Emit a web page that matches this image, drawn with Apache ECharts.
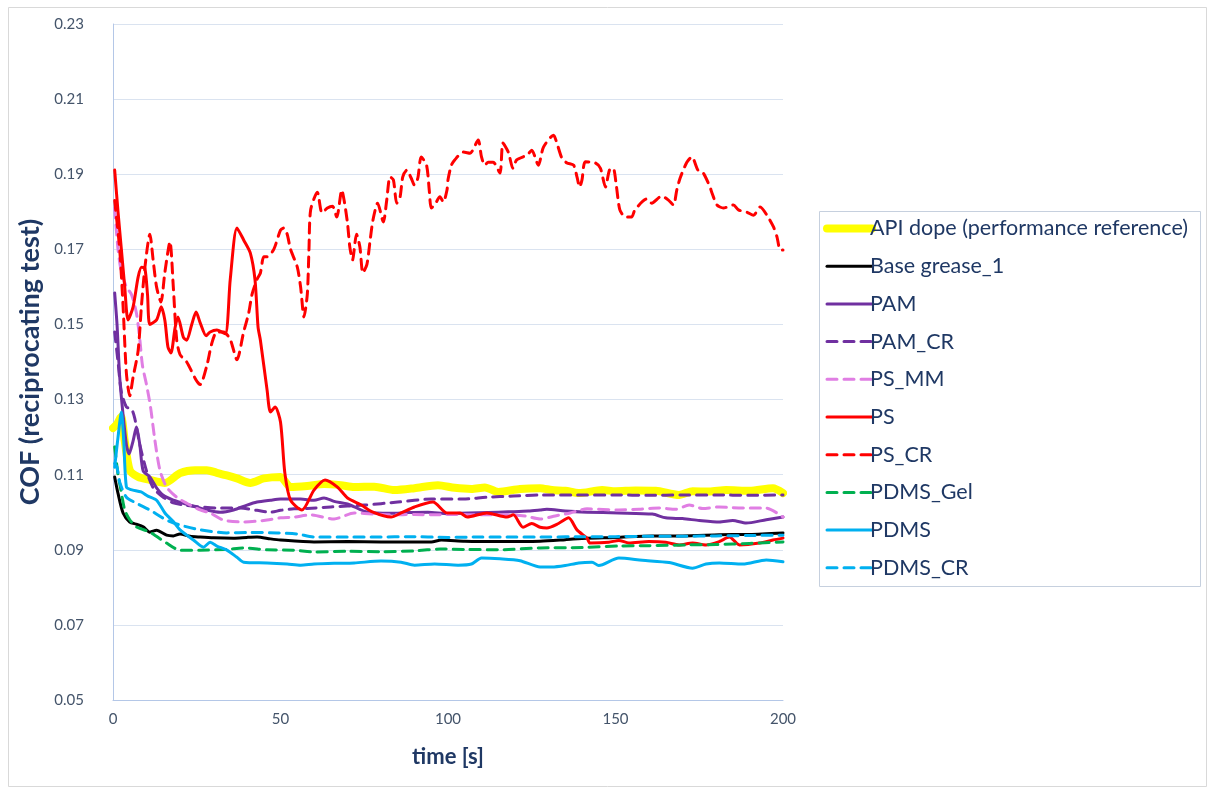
<!DOCTYPE html>
<html>
<head>
<meta charset="utf-8">
<script src="https://cdn.jsdelivr.net/npm/echarts@6/dist/echarts.min.js"></script>
<style>
  html, body { margin: 0; padding: 0; background: #ffffff; }
  #chart { width: 1207px; height: 787px; }
</style>
</head>
<body>
<div id="chart"></div>
<script>
// Friction coefficient vs. time, reciprocating test — [time s, COF]
const API_DOPE = [[0,0.1224],[1.2,0.1235],[2.4,0.1254],[3.5,0.119],[5,0.1112],[7.5,0.1094],[11,0.1086],[15.5,0.1078],[20,0.1104],[24.5,0.1112],[28,0.1112],[31,0.1105],[34,0.1098],[37,0.109],[41,0.1078],[45,0.109],[50,0.1094],[53,0.1067],[58,0.107],[63,0.1075],[68,0.1072],[72,0.1067],[78,0.1068],[84,0.1059],[90,0.1064],[97,0.1072],[102,0.1065],[107,0.1062],[111,0.1066],[115,0.1054],[121.5,0.1062],[127.5,0.1064],[131,0.1059],[135,0.1057],[139,0.1051],[146,0.1059],[150,0.1056],[156,0.1058],[162,0.1057],[169,0.1046],[173,0.1056],[178,0.1055],[183,0.1059],[190,0.1057],[197,0.1064],[200,0.1051]];
const BASE_GREASE_1 = [[0.5,0.1094],[1.5,0.105],[3,0.0998],[5,0.0974],[7,0.0968],[9,0.0961],[11,0.0947],[13,0.0952],[16,0.0939],[18,0.0937],[20,0.0942],[23,0.0936],[26,0.0934],[30,0.0932],[36,0.0931],[40,0.0933],[43,0.0934],[47,0.0929],[50,0.0926],[60,0.0921],[70,0.0922],[80,0.0921],[90,0.0921],[95,0.0921],[98,0.0926],[105,0.0923],[115,0.0922],[127.5,0.0923],[135,0.0927],[141.5,0.0931],[150,0.0933],[161,0.0937],[170,0.0937],[181,0.094],[190,0.0941],[200,0.0945]];
const PAM = [[0.5,0.1584],[1.2,0.150],[2,0.136],[3,0.126],[4,0.118],[4.8,0.1155],[6,0.119],[7,0.1227],[8,0.118],[9,0.111],[11,0.1094],[13,0.1065],[15,0.1045],[18,0.1032],[21,0.1024],[24,0.1016],[28,0.1006],[32,0.1],[36,0.1006],[40,0.1019],[43,0.1027],[47,0.1032],[50,0.1035],[56,0.1035],[60,0.1032],[63,0.1038],[66,0.1029],[70,0.1022],[76,0.1],[83,0.0997],[88,0.0999],[94,0.1],[100,0.0996],[106,0.0998],[112,0.0999],[118,0.1001],[124,0.1003],[127.5,0.1006],[129.5,0.1008],[135,0.1003],[141.5,0.1],[151,0.0998],[161,0.0995],[165,0.0985],[170,0.0983],[175,0.0978],[181,0.0974],[185,0.0978],[189,0.0971],[195,0.098],[200,0.0987]];
const PAM_CR = [[0.5,0.148],[1.5,0.14],[2.5,0.132],[4,0.128],[5.5,0.1275],[6.5,0.125],[8,0.118],[10,0.111],[12,0.1065],[15,0.104],[18,0.1025],[22,0.1018],[26,0.1014],[31,0.1011],[38,0.1011],[43,0.1005],[47,0.1],[50,0.1005],[54,0.1009],[58,0.101],[65,0.1014],[75,0.1019],[85,0.1027],[95,0.1035],[104.5,0.1035],[111.6,0.104],[119.5,0.1043],[127.5,0.1046],[140,0.1046],[150,0.1046],[160,0.1045],[170,0.1046],[180,0.1046],[190,0.1045],[200,0.1046]];
const PS_MM = [[0.5,0.181],[1.5,0.170],[2.5,0.164],[4,0.160],[5.5,0.158],[7,0.153],[8,0.146],[8.8,0.139],[10,0.134],[11.2,0.128],[12.5,0.1192],[14,0.1112],[16,0.1067],[19,0.104],[22,0.1024],[26,0.1006],[29,0.0998],[33,0.0979],[39,0.0974],[46,0.0979],[50,0.0985],[54,0.0987],[59,0.0993],[66,0.0982],[72,0.0998],[78,0.0995],[83,0.0993],[90,0.0994],[95.5,0.0993],[102,0.0994],[109.5,0.0993],[119.5,0.0993],[123,0.099],[127.5,0.0982],[132,0.099],[136.5,0.0998],[141.5,0.1009],[151,0.1006],[157,0.1008],[163,0.1011],[168,0.1008],[172,0.1019],[176,0.101],[181,0.1014],[185,0.1012],[189,0.1011],[195,0.1011],[200,0.0987]];
const PS = [[0.5,0.1911],[1.5,0.180],[2.5,0.170],[3.5,0.160],[4.5,0.1512],[6,0.1547],[7.5,0.1626],[8.5,0.1652],[9.5,0.165],[10.3,0.158],[11,0.150],[13,0.1512],[14.4,0.1547],[15.5,0.151],[16.4,0.144],[17.3,0.1424],[18.5,0.149],[19.4,0.152],[21,0.1466],[22,0.1458],[23.5,0.150],[24.8,0.1533],[26,0.1505],[27.8,0.147],[29,0.148],[31,0.1485],[33.5,0.1475],[35,0.162],[37,0.1757],[39,0.1725],[41,0.169],[42.4,0.1618],[43.3,0.1493],[44,0.1458],[46,0.1325],[47,0.1267],[48.4,0.128],[50,0.124],[51.3,0.1104],[53,0.1032],[56.4,0.1006],[60,0.1059],[63.3,0.1086],[67,0.1067],[70,0.1038],[74,0.102],[77.6,0.1],[83,0.0987],[86,0.0998],[90,0.1014],[95.5,0.1027],[99.7,0.0998],[103.6,0.0998],[105.7,0.0987],[111.6,0.0998],[117.6,0.0987],[119.5,0.0993],[122.4,0.096],[125,0.097],[127.5,0.096],[129.5,0.0958],[133,0.097],[136,0.0985],[138.5,0.0953],[141.5,0.0931],[142.4,0.0918],[148,0.092],[151,0.0925],[154,0.0918],[160,0.0922],[165,0.092],[169,0.0913],[173,0.0918],[177,0.0913],[181,0.0922],[184,0.0934],[187,0.0913],[193,0.0918],[197,0.0926],[200,0.0931]];
const PS_CR = [[0.5,0.183],[2,0.170],[3,0.155],[4,0.137],[5,0.131],[6,0.136],[7.5,0.143],[8.5,0.155],[9.5,0.165],[11,0.174],[12,0.167],[13,0.160],[14.3,0.156],[15.5,0.164],[17,0.172],[18,0.160],[19,0.146],[20,0.142],[22,0.140],[24.8,0.1352],[26,0.134],[28,0.139],[29.5,0.145],[31,0.148],[33,0.148],[35,0.146],[37,0.1406],[39,0.148],[40.5,0.153],[41.5,0.158],[43,0.162],[44,0.1637],[45,0.168],[46,0.168],[48,0.170],[50,0.1751],[51,0.1757],[52,0.174],[53,0.170],[55,0.1653],[56,0.160],[57,0.152],[58,0.158],[58.5,0.170],[59,0.1805],[61,0.1852],[62.4,0.1797],[64,0.181],[65.5,0.1815],[66.8,0.1786],[68.3,0.1858],[69,0.183],[70,0.177],[70.7,0.1706],[71.5,0.1672],[72.7,0.174],[73.7,0.1706],[74.6,0.1637],[75.8,0.166],[76.7,0.172],[77.6,0.1778],[79,0.1823],[80.7,0.1773],[81.7,0.183],[82.7,0.1893],[83.7,0.1885],[84.7,0.1823],[85.7,0.184],[86.5,0.1893],[87.7,0.1911],[89,0.189],[90,0.1871],[91,0.189],[92,0.1946],[93.6,0.1924],[94.4,0.1858],[95,0.181],[96,0.1818],[97.6,0.184],[98.6,0.1826],[99.7,0.1858],[100,0.1885],[101,0.1924],[102,0.1938],[104.6,0.1959],[106.6,0.1956],[109,0.1991],[110,0.1946],[111,0.1924],[112,0.1932],[113.5,0.1932],[115.5,0.1903],[116.4,0.1983],[118,0.1959],[119.4,0.1916],[120.5,0.1938],[123.6,0.1951],[125,0.1964],[126.5,0.1932],[127,0.1924],[128.5,0.1972],[131.5,0.2004],[132.5,0.1983],[134,0.1943],[135.5,0.193],[137.5,0.1924],[138.5,0.1893],[139.3,0.1866],[140,0.1885],[141,0.1933],[144,0.193],[145.5,0.1916],[147,0.1866],[148.2,0.1911],[149.3,0.1916],[150.3,0.1866],[151.3,0.1805],[153,0.1786],[154.8,0.1786],[155.8,0.1805],[159.3,0.1834],[160.8,0.1823],[163.8,0.1842],[165.8,0.1831],[167.3,0.1818],[168.3,0.1858],[169.3,0.189],[171.3,0.1932],[172.8,0.1946],[174.6,0.1911],[176.2,0.1903],[178.2,0.1866],[178.8,0.185],[180.3,0.1818],[182.2,0.181],[185.2,0.1818],[186.7,0.1805],[189.2,0.1799],[191.2,0.1791],[193.2,0.1813],[195.2,0.1791],[197.2,0.1759],[198.2,0.1733],[199.2,0.1698],[200,0.1698]];
const PDMS_GEL = [[0.5,0.1174],[1.5,0.110],[2.2,0.1067],[3.5,0.1006],[5,0.098],[7,0.0961],[11,0.0947],[16,0.0918],[20,0.0899],[26,0.0899],[34,0.0901],[39,0.0905],[46,0.09],[54,0.0899],[60,0.0894],[70,0.0896],[80,0.0895],[90,0.0897],[97.6,0.0902],[105,0.0901],[115,0.09],[127.5,0.0905],[140,0.0906],[151,0.091],[160,0.0911],[171,0.0913],[180,0.0914],[190,0.0917],[200,0.0921]];
const PDMS = [[0.5,0.112],[1.5,0.120],[2.5,0.1267],[3.2,0.119],[4,0.1067],[5.4,0.106],[8.4,0.1054],[10.4,0.1043],[13,0.1032],[15.5,0.0998],[18,0.0975],[20,0.0953],[24,0.0926],[27,0.0907],[29,0.092],[31,0.091],[34,0.0899],[37,0.088],[39,0.0867],[46,0.0865],[52,0.0862],[56,0.0859],[60,0.0862],[66,0.0864],[72,0.0865],[80,0.087],[86,0.0867],[90,0.0859],[96,0.0862],[103,0.0859],[107,0.0862],[110,0.0878],[115.5,0.0876],[121.5,0.0871],[127.5,0.0854],[131,0.0854],[135,0.0858],[139,0.0865],[143,0.0867],[145,0.0858],[151,0.0878],[158,0.0872],[166,0.0866],[173,0.0851],[177,0.0862],[181,0.0865],[188,0.0862],[195,0.0873],[200,0.0868]];
const PDMS_CR = [[0.5,0.113],[1.2,0.112],[2,0.108],[4,0.104],[7,0.1024],[11,0.1006],[16,0.0979],[20,0.0966],[26,0.0953],[34,0.0945],[41,0.0946],[49,0.0945],[55,0.0942],[60,0.0934],[70,0.0934],[80,0.0934],[88,0.0935],[100,0.0933],[110,0.0934],[120,0.0934],[130,0.0934],[140,0.0935],[150,0.0935],[160,0.0936],[170,0.0936],[180,0.0937],[190,0.0938],[200,0.0939]];

const Y_TICKS = [0.05, 0.07, 0.09, 0.11, 0.13, 0.15, 0.17, 0.19, 0.21, 0.23];
const X_TICKS = [0, 50, 100, 150, 200];

const FONT = 'Lato, "Open Sans", sans-serif';
const TEXT_DARK = '#1f3864';
const TICK_TEXT = '#44546a';

function line(name, data, color, width, dashed) {
  return {
    name: name,
    type: 'line',
    data: data,
    smooth: 0.25,
    symbol: 'none',
    showSymbol: false,
    animation: false,
    lineStyle: {
      color: color,
      width: width,
      type: dashed ? [10, 7] : 'solid',
      cap: 'round',
      join: 'round'
    },
    itemStyle: { color: color }
  };
}

const chart = echarts.init(document.getElementById('chart'), null, { renderer: 'canvas' });

chart.setOption({
  backgroundColor: '#ffffff',
  animation: false,
  textStyle: { fontFamily: FONT },
  grid: { left: 113, right: 424, top: 24, bottom: 87, containLabel: false },
  xAxis: {
    type: 'value',
    min: 0,
    max: 200,
    interval: 50,
    name: 'time [s]',
    nameLocation: 'middle',
    nameGap: 46,
    nameTextStyle: { fontFamily: FONT, fontSize: 22, fontWeight: 'bold', color: TEXT_DARK },
    axisLine: { show: true, lineStyle: { color: '#b4c7e7', width: 1 } },
    axisTick: { show: false },
    splitLine: { show: false },
    axisLabel: { fontFamily: FONT, fontSize: 15, color: TICK_TEXT, margin: 12,
      customValues: X_TICKS }
  },
  yAxis: {
    type: 'value',
    min: 0.05,
    max: 0.23,
    name: 'COF (reciprocating test)',
    nameLocation: 'middle',
    nameGap: 46,
    nameTextStyle: { fontFamily: FONT, fontSize: 27, fontWeight: 'bold', color: TEXT_DARK },
    axisLine: { show: true, lineStyle: { color: '#b4c7e7', width: 1 } },
    axisTick: { show: false, customValues: Y_TICKS },
    splitLine: { show: true, lineStyle: { color: '#dae3f0', width: 1 } },
    axisLabel: {
      fontFamily: FONT, fontSize: 15, color: TICK_TEXT, margin: 29,
      customValues: Y_TICKS,
      formatter: v => v.toFixed(2)
    }
  },
  legend: {
    orient: 'vertical',
    left: 823,
    top: 217.5,
    itemWidth: 45,
    itemHeight: 14,
    itemGap: 15.7,
    padding: 0,
    itemStyle: { color: 'rgba(0,0,0,0)', borderColor: 'rgba(0,0,0,0)', borderWidth: 0, opacity: 0 },
    lineStyle: { width: 'inherit', type: 'inherit', color: 'inherit' },
    textStyle: { fontFamily: FONT, fontSize: 21.5, color: TEXT_DARK, padding: [0, 0, 0, -7] },
    data: ['API dope (performance reference)', 'Base grease_1', 'PAM', 'PAM_CR', 'PS_MM', 'PS', 'PS_CR', 'PDMS_Gel', 'PDMS', 'PDMS_CR']
  },
  graphic: [
    { type: 'rect', left: 6, top: 5, shape: { width: 1198, height: 779 },
      style: { fill: 'none', stroke: '#d9d9d9', lineWidth: 1 }, silent: true, z: -1 },
    { type: 'rect', left: 817, top: 209, shape: { width: 381, height: 375 },
      style: { fill: 'none', stroke: '#c6d0de', lineWidth: 1 }, silent: true }
  ],
  series: [
    line('API dope (performance reference)', API_DOPE, '#ffff00', 8, false),
    line('Base grease_1', BASE_GREASE_1, '#000000', 3, false),
    line('PAM', PAM, '#7030a0', 3, false),
    line('PAM_CR', PAM_CR, '#7030a0', 3, true),
    line('PS_MM', PS_MM, '#e07ee3', 3, true),
    line('PS', PS, '#ff0000', 3, false),
    line('PS_CR', PS_CR, '#ff0000', 3, true),
    line('PDMS_Gel', PDMS_GEL, '#00b050', 3, true),
    line('PDMS', PDMS, '#00b0f0', 3, false),
    line('PDMS_CR', PDMS_CR, '#00b0f0', 3, true)
  ]
});
</script>
</body>
</html>
